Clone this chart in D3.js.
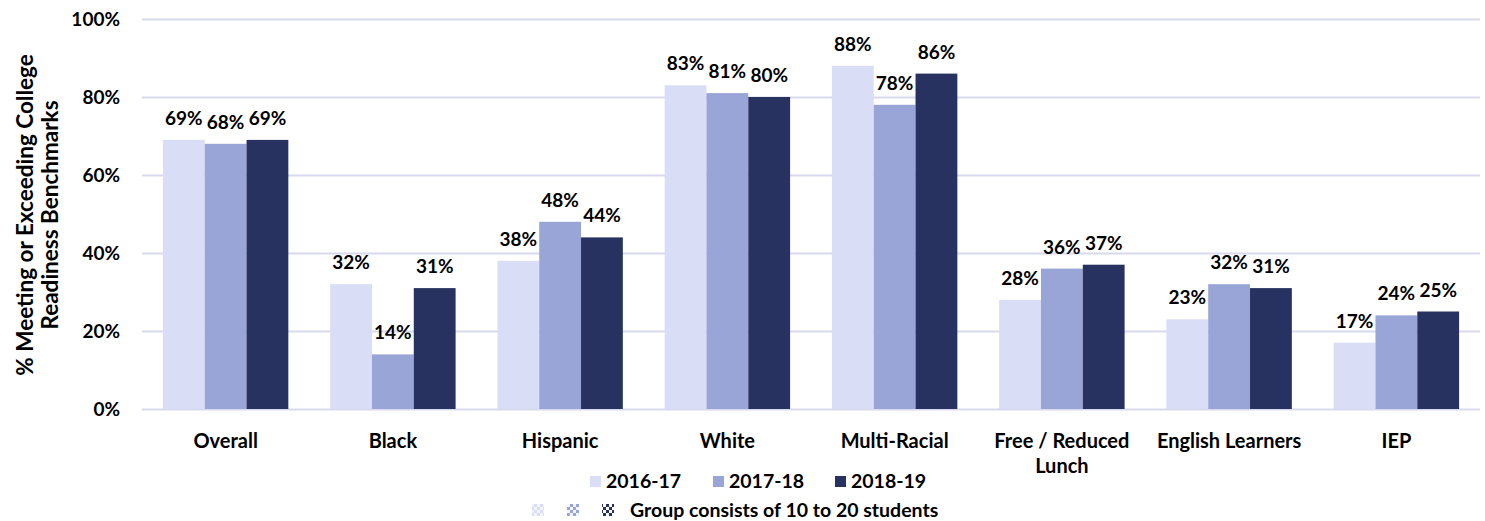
<!DOCTYPE html>
<html>
<head>
<meta charset="utf-8">
<script src="https://cdn.jsdelivr.net/npm/d3@7"></script>
<style>
  body { margin: 0; background: #fff; }
  text { font-family: Lato, "Open Sans", sans-serif; font-weight: bold; fill: #000; }
</style>
</head>
<body>
<div id="chart"></div>
<script>
var svgWidth = 1485;
var svgHeight = 521;

// data
var categories = ["Overall", "Black", "Hispanic", "White", "Multi-Racial", "Free / Reduced Lunch", "English Learners", "IEP"];
var years = ["2016-17", "2017-18", "2018-19"];
var values2016 = [69, 32, 38, 83, 88, 28, 23, 17];
var values2017 = [68, 14, 48, 81, 78, 36, 32, 24];
var values2018 = [69, 31, 44, 80, 86, 37, 31, 25];
var yTicks = [0, 20, 40, 60, 80, 100];
var colors = ["#d9ddf5", "#98a5d6", "#283260"];

var margin = { top: 19, right: 5, bottom: 112, left: 142 };
var width = svgWidth - margin.left - margin.right;
var height = svgHeight - margin.top - margin.bottom;

var series = [values2016, values2017, values2018];

var svg = d3.select("#chart")
  .append("svg")
  .attr("width", svgWidth)
  .attr("height", svgHeight);

// checker patterns for the small group legend
var defs = svg.append("defs");
colors.forEach(function(c, i) {
  var p = defs.append("pattern")
    .attr("id", "checker" + i)
    .attr("width", 6).attr("height", 6)
    .attr("patternUnits", "userSpaceOnUse");
  p.append("rect").attr("width", 6).attr("height", 6).attr("fill", i == 2 ? "#fff" : "#f4f5fc");
  p.append("rect").attr("width", 3).attr("height", 3).attr("fill", c);
  p.append("rect").attr("x", 3).attr("y", 3).attr("width", 3).attr("height", 3).attr("fill", c);
});

var chartGroup = svg.append("g")
  .attr("transform", `translate(${margin.left}, ${margin.top})`);

var x0 = d3.scaleBand()
  .domain(categories)
  .range([0, width]);

var x1 = d3.scaleBand()
  .domain(years)
  .range([0, x0.bandwidth()])
  .paddingInner(0)
  .paddingOuter(0.5);

var y = d3.scaleLinear()
  .domain([0, 100])
  .range([height, 0]);

// gridlines + tick labels
var leftAxis = d3.axisLeft(y)
  .tickValues(yTicks)
  .tickSize(-width)
  .tickPadding(22)
  .tickFormat(d => d + "%");

var yAxis = chartGroup.append("g").call(leftAxis);
yAxis.select(".domain").remove();
yAxis.selectAll("line").attr("stroke", "#d9d9ee").attr("stroke-width", 2);
yAxis.selectAll("text").style("font-size", "19px").style("font-family", "Lato, sans-serif");

// bars
var groups = chartGroup.selectAll(".cat")
  .data(categories)
  .enter()
  .append("g")
  .attr("transform", d => `translate(${x0(d)}, 0)`);

groups.selectAll("rect")
  .data((d, i) => years.map((yr, j) => ({ year: yr, v: series[j][i], j: j })))
  .enter()
  .append("rect")
  .attr("x", d => x1(d.year))
  .attr("y", d => y(d.v))
  .attr("width", x1.bandwidth())
  .attr("height", d => height - y(d.v))
  .attr("fill", d => colors[d.j]);

groups.selectAll(".lbl")
  .data((d, i) => years.map((yr, j) => ({ year: yr, v: series[j][i], j: j })))
  .enter()
  .append("text")
  .attr("class", "lbl")
  .attr("x", d => x1(d.year) + x1.bandwidth() / 2)
  .attr("y", d => y(d.v) - 15)
  .attr("text-anchor", "middle")
  .style("font-size", "19px")
  .text(d => d.v + "%");

// category labels
var catLabels = chartGroup.selectAll(".catLabel")
  .data(categories)
  .enter()
  .append("text")
  .attr("class", "catLabel")
  .attr("x", d => x0(d) + x0.bandwidth() / 2)
  .attr("y", height + 39)
  .attr("text-anchor", "middle")
  .style("font-size", "20px");

catLabels.each(function(d) {
  var t = d3.select(this);
  var lines = d == "Free / Reduced Lunch" ? ["Free / Reduced", "Lunch"] : [d];
  lines.forEach(function(l, i) {
    t.append("tspan")
      .attr("x", x0(d) + x0.bandwidth() / 2)
      .attr("dy", i == 0 ? 0 : 25)
      .text(l);
  });
});

// y axis title
var yTitle = svg.append("text")
  .attr("transform", "rotate(-90)")
  .attr("text-anchor", "middle")
  .style("font-size", "22.5px");
yTitle.append("tspan").attr("x", -215).attr("y", 33).text("% Meeting or Exceeding College");
yTitle.append("tspan").attr("x", -215).attr("y", 58).text("Readiness Benchmarks");

// legend
var legendX = [590, 713, 835];
var legend = svg.append("g");
years.forEach(function(yr, i) {
  legend.append("rect")
    .attr("x", legendX[i]).attr("y", 476)
    .attr("width", 11).attr("height", 11)
    .attr("fill", colors[i]);
  legend.append("text")
    .attr("x", legendX[i] + 16).attr("y", 488)
    .style("font-size", "19.5px")
    .text(yr);
});

var checkX = [532, 567, 602];
checkX.forEach(function(cx, i) {
  legend.append("rect")
    .attr("x", cx).attr("y", 504)
    .attr("width", 12).attr("height", 12)
    .attr("fill", "url(#checker" + i + ")");
});
legend.append("text")
  .attr("x", 630).attr("y", 517)
  .style("font-size", "19.5px")
  .text("Group consists of 10 to 20 students");
</script>
</body>
</html>
